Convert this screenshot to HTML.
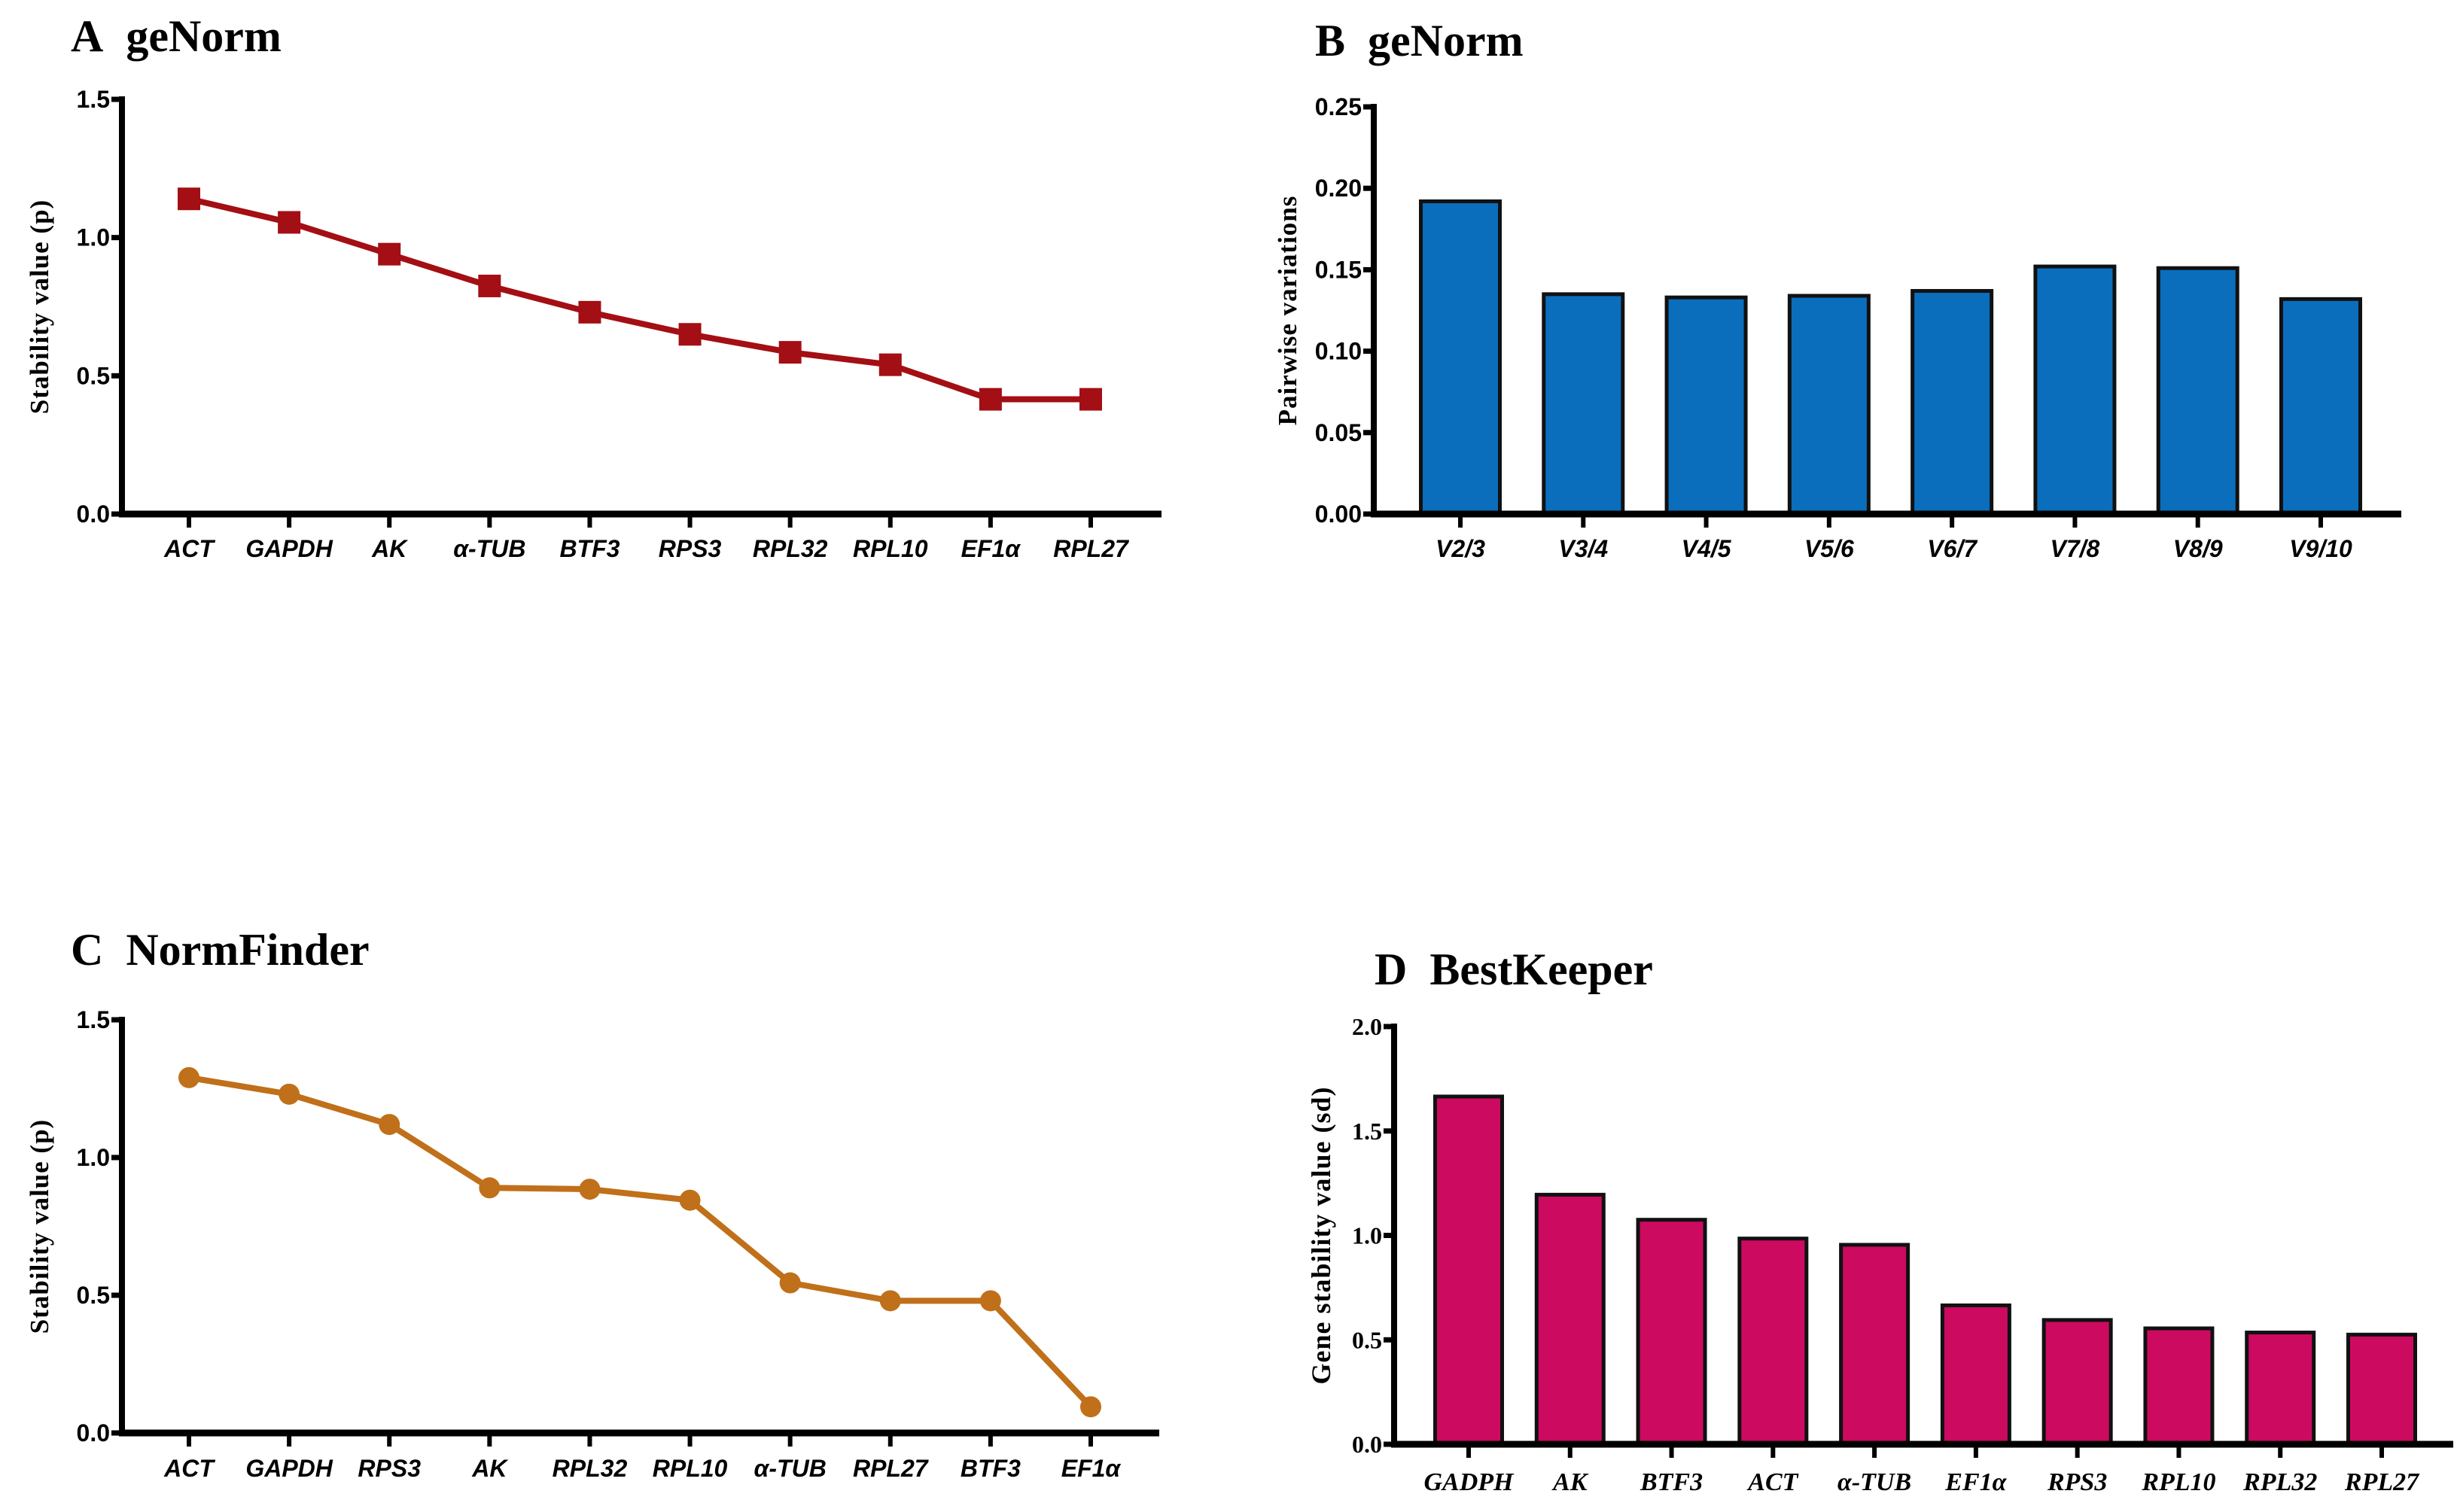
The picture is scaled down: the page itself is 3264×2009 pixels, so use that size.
<!DOCTYPE html>
<html><head><meta charset="utf-8"><style>
html,body{margin:0;padding:0;background:#fff;}
svg{display:block;}
.title{font-family:"Liberation Serif",serif;font-weight:bold;font-size:60px;}
.tick{font-family:"Liberation Sans Narrow","Liberation Sans",sans-serif;font-weight:bold;font-size:32px;}
.cat{font-family:"Liberation Sans Narrow","Liberation Sans",sans-serif;font-weight:bold;font-style:italic;font-size:32px;}
.serifcat{font-family:"Liberation Serif",serif;font-weight:bold;font-style:italic;font-size:34px;}
.serifnum{font-family:"Liberation Serif",serif;font-weight:bold;font-size:32px;}
.ylab{font-family:"Liberation Serif",serif;font-weight:bold;font-size:35px;letter-spacing:1px;}
</style></head><body>
<svg id="fig" width="3264" height="2009" viewBox="0 0 3264 2009" xmlns="http://www.w3.org/2000/svg">
<text class="title" x="94" y="68">A&#160;&#160;geNorm</text>
<text class="title" x="1747" y="74">B&#160;&#160;geNorm</text>
<text class="title" x="94" y="1282">C&#160;&#160;NormFinder</text>
<text class="title" x="1826" y="1308">D&#160;&#160;BestKeeper</text>
</svg>
<script>
const aCats=["ACT","GAPDH","AK","α-TUB","BTF3","RPS3","RPL32","RPL10","EF1α","RPL27"];
const aVals=[1.14,1.055,0.94,0.825,0.73,0.65,0.585,0.54,0.415,0.415];
const aTicks=["0.0","0.5","1.0","1.5"];
const bCats=["V2/3","V3/4","V4/5","V5/6","V6/7","V7/8","V8/9","V9/10"];
const bVals=[0.192,0.135,0.133,0.134,0.137,0.152,0.151,0.132];
const bTicks=["0.00","0.05","0.10","0.15","0.20","0.25"];
const cCats=["ACT","GAPDH","RPS3","AK","RPL32","RPL10","α-TUB","RPL27","BTF3","EF1α"];
const cVals=[1.29,1.23,1.12,0.89,0.885,0.845,0.545,0.48,0.48,0.095];
const cTicks=["0.0","0.5","1.0","1.5"];
const dCats=["GADPH","AK","BTF3","ACT","α-TUB","EF1α","RPS3","RPL10","RPL32","RPL27"];
const dVals=[1.665,1.195,1.075,0.985,0.955,0.665,0.595,0.555,0.535,0.525];
const dTicks=["0.0","0.5","1.0","1.5","2.0"];

const NS="http://www.w3.org/2000/svg";
const svg=document.getElementById('fig');
function mk(tag,attrs,parent){const e=document.createElementNS(NS,tag);for(const k in attrs)e.setAttribute(k,attrs[k]);(parent||svg).appendChild(e);return e;}

function panel(o){
  const g=mk('g',{});
  
  
  const ticks=o.ticks.map(Number);const ymax=ticks[ticks.length-1];
  const y=v=>o.y0-(v/ymax)*(o.y0-o.y1);
  const n=o.cats.length;
  const x=i=>o.c0+i*(o.c1-o.c0)/(n-1);
  o.ticks.forEach((t,i)=>{
    const yy=y(ticks[i]);
    const tl=mk('line',{x1:o.ax-14,x2:o.ax,y1:yy,y2:yy,stroke:'#000','stroke-width':7},g);
    
    
    const tx=mk('text',{x:o.ax-16,y:yy+11,'text-anchor':'end',class:o.numClass},g);
    tx.textContent=t;
    
    
  });
  if(o.type==='bar'){
    o.vals.forEach((v,i)=>{
      const r=mk('rect',{x:x(i)-o.bw/2,y:y(v),width:o.bw,height:o.y0-y(v),fill:o.color,stroke:'#111','stroke-width':5},g);
      
      
    });
  } else {
    const pts=o.vals.map((v,i)=>x(i)+','+y(v)).join(' ');
    const pl=mk('polyline',{points:pts,fill:'none',stroke:o.color,'stroke-width':8},g);
    
    
    o.vals.forEach((v,i)=>{
      let m;
      if(o.marker==='square') m=mk('rect',{x:x(i)-15,y:y(v)-15,width:30,height:30,fill:o.color},g);
      else m=mk('circle',{cx:x(i),cy:y(v),r:14,fill:o.color},g);
      
      
    });
  }
  const ya=mk('line',{x1:o.ax,x2:o.ax,y1:o.y1-4,y2:o.y0+4,stroke:'#000','stroke-width':8},g);
  
  
  const xa=mk('line',{x1:o.ax-4,x2:o.xr,y1:o.y0,y2:o.y0,stroke:'#000','stroke-width':9},g);
  
  
  o.cats.forEach((c,i)=>{
    const tl=mk('line',{x1:x(i),x2:x(i),y1:o.y0,y2:o.y0+18,stroke:'#000','stroke-width':6},g);
    
    
    const tx=mk('text',{x:x(i),y:o.labY,'text-anchor':'middle',class:o.catClass},g);
    tx.textContent=c;
    
    
  });
  const yl=mk('text',{x:0,y:0,'text-anchor':'middle',class:'ylab',transform:`translate(${o.ylx},${(o.y0+o.y1)/2}) rotate(-90)`},g);
  if(o.ylfs) yl.setAttribute('font-size',o.ylfs);
  if(o.ylfs) yl.style.fontSize=o.ylfs+'px';
  yl.textContent=o.ylabel;
  
  
}

panel({name:'panel-a-chart',type:'line',marker:'square',cats:aCats,vals:aVals,ticks:aTicks,ax:162,y0:683,y1:132,c0:251,c1:1449,xr:1543,labY:740,color:'#a30f14',numClass:'tick',catClass:'cat',ylabel:'Stability value (p)',ylx:64});
panel({name:'panel-b-chart',type:'bar',cats:bCats,vals:bVals,ticks:bTicks,ax:1825,y0:683,y1:142,c0:1940,c1:3083,xr:3190,bw:105,labY:740,color:'#0a6ebd',numClass:'tick',catClass:'cat',ylabel:'Pairwise variations',ylx:1722});
panel({name:'panel-c-chart',type:'line',marker:'circle',cats:cCats,vals:cVals,ticks:cTicks,ax:162,y0:1904,y1:1355,c0:251,c1:1449,xr:1540,labY:1962,color:'#c0701a',numClass:'tick',catClass:'cat',ylabel:'Stability value (p)',ylx:64});
panel({name:'panel-d-chart',type:'bar',cats:dCats,vals:dVals,ticks:dTicks,ax:1852,y0:1919,y1:1364,c0:1951,c1:3164,xr:3259,bw:89,labY:1980,color:'#cc0a60',numClass:'serifnum',catClass:'serifcat',ylabel:'Gene stability value (sd)',ylx:1767,ylfs:36});
</script>
</body></html>
